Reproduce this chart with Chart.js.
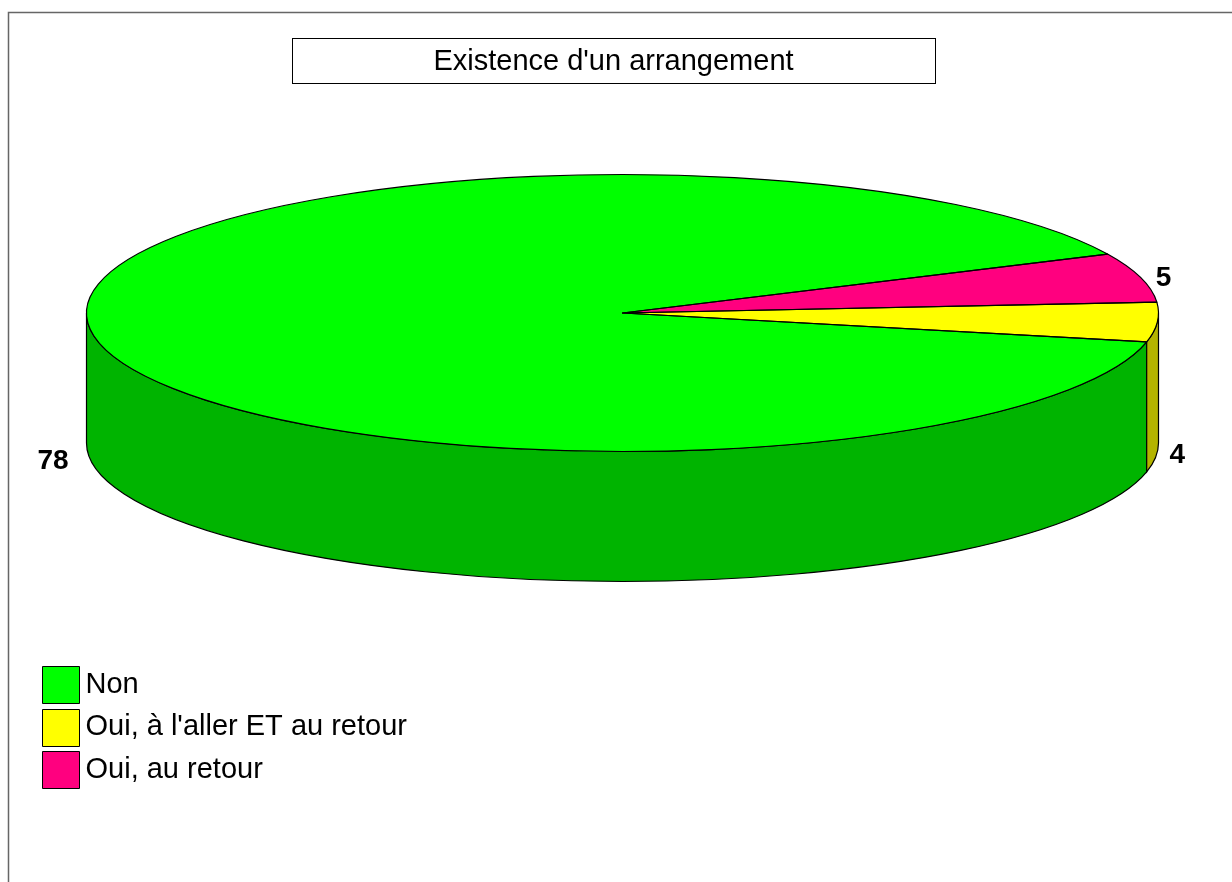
<!DOCTYPE html>
<html>
<head>
<meta charset="utf-8">
<title>Existence d'un arrangement</title>
<script src="https://cdn.jsdelivr.net/npm/chart.js@4/dist/chart.umd.min.js"></script>
<style>
  html, body { margin: 0; padding: 0; background: #fff; }
  canvas { display: block; }
</style>
</head>
<body>
<canvas id="ex_chart" width="1232" height="882"></canvas>
<script>
var chartTitle = "Existence d'un arrangement";
// clockwise order on the pie, starting at the lower right
var categories = ["Non", "Oui, au retour", "Oui, à l'aller ET au retour"];
var values = [78, 5, 4];
var legendOrder = ["Non", "Oui, à l'aller ET au retour", "Oui, au retour"];

var topColors = ["#00ff00", "#ff007f", "#ffff00"];
var wallColors = ["#00b400", "#b40059", "#b4b400"];
var labelNudgeX = [-37, 23, 20];
var labelNudgeY = [2, 1, 3];

var font = "'Liberation Sans', Arial, sans-serif";
var cx = 622.5, cy = 313, rx = 536, ry = 138.5, depth = 130;

function ellipsePoint(angle) {
    return { x: cx + rx * Math.cos(angle), y: cy + ry * Math.sin(angle) };
}

var pie3d = {
    id: 'pie3d',
    afterLayout: function (chart) {
        var t = chart.titleBlock;
        t.left = 292; t.right = 935; t.width = 643;
        t.top = 62 - t.height / 2; t.bottom = t.top + t.height;

        var l = chart.legend;
        l.left = 42 - l.options.labels.padding; l.right = l.left + l.width;
        l.top = 670 - l.options.labels.padding; l.bottom = l.top + l.height;
    },
    beforeDraw: function (chart) {
        var ctx = chart.ctx;
        ctx.save();
        ctx.fillStyle = '#fff';
        ctx.fillRect(0, 0, chart.width, chart.height);

        // frame, runs off the right and bottom of the page
        ctx.strokeStyle = '#666';
        ctx.lineWidth = 1.5;
        ctx.beginPath();
        ctx.moveTo(8.5, 882);
        ctx.lineTo(8.5, 12.5);
        ctx.lineTo(1232, 12.5);
        ctx.stroke();

        // title box
        ctx.strokeStyle = '#000';
        ctx.lineWidth = 1;
        ctx.strokeRect(292.5, 38.5, 643, 45);
        ctx.restore();
    },
    beforeDatasetsDraw: function (chart) {
        var ctx = chart.ctx;
        var arcs = chart.getDatasetMeta(0).data;
        ctx.save();
        ctx.strokeStyle = '#000';
        ctx.lineWidth = 1.2;
        // side walls, only the part of each slice facing the viewer
        arcs.forEach(function (arc, i) {
            for (var k = -1; k <= 2; k++) {
                var s = Math.max(arc.startAngle, k * 2 * Math.PI);
                var e = Math.min(arc.endAngle, k * 2 * Math.PI + Math.PI);
                if (e <= s) continue;
                ctx.beginPath();
                ctx.ellipse(cx, cy, rx, ry, 0, s, e);
                ctx.ellipse(cx, cy + depth, rx, ry, 0, e, s, true);
                ctx.closePath();
                ctx.fillStyle = wallColors[i];
                ctx.fill();
                ctx.stroke();
            }
        });
        ctx.restore();

        // squash the library's round pie into the top ellipse
        var first = arcs[0];
        ctx.save();
        ctx.translate(cx, cy);
        ctx.scale(rx / first.outerRadius, ry / first.outerRadius);
        ctx.translate(-first.x, -first.y);
    },
    afterDatasetsDraw: function (chart) {
        var ctx = chart.ctx;
        var arcs = chart.getDatasetMeta(0).data;
        ctx.restore();

        ctx.save();
        ctx.strokeStyle = '#000';
        ctx.lineWidth = 1.2;
        ctx.lineJoin = 'round';
        arcs.forEach(function (arc) {
            ctx.beginPath();
            ctx.moveTo(cx, cy);
            ctx.ellipse(cx, cy, rx, ry, 0, arc.startAngle, arc.endAngle);
            ctx.closePath();
            ctx.stroke();
        });

        // value labels
        ctx.fillStyle = '#000';
        ctx.font = 'bold 28px ' + font;
        ctx.textAlign = 'center';
        ctx.textBaseline = 'middle';
        arcs.forEach(function (arc, i) {
            var mid = (arc.startAngle + arc.endAngle) / 2;
            var p = ellipsePoint(mid);
            var y = p.y + (Math.sin(mid) > 0 ? depth : 0);
            ctx.fillText(String(values[i]), p.x + labelNudgeX[i], y + labelNudgeY[i]);
        });

        // legend swatches, the legend itself leaves room and writes the text
        ctx.lineWidth = 1;
        chart.legend.legendItems.forEach(function (item, i) {
            var idx = categories.indexOf(item.text);
            var y = Math.round(666 + i * 42.5) + 0.5;
            ctx.fillStyle = topColors[idx];
            ctx.fillRect(42.5, y, 37, 37);
            ctx.strokeRect(42.5, y, 37, 37);
        });
        ctx.restore();
    }
};

var ctx = document.getElementById('ex_chart');

var data = {
    labels: categories,
    datasets: [{
        data: values,
        backgroundColor: topColors,
        borderWidth: 0,
        hoverOffset: 0,
        clip: false,
        radius: rx
    }]
};

var config = {
    responsive: false,
    animation: false,
    events: [],
    // lower edge of the yellow slice sits 12 degrees below the horizontal
    rotation: 102.05,
    plugins: {
        tooltip: { enabled: false },
        title: {
            display: true,
            text: chartTitle,
            color: '#000',
            padding: 0,
            font: { family: font, size: 29, weight: 'normal', lineHeight: 1.2 }
        },
        legend: {
            display: true,
            position: 'left',
            align: 'start',
            labels: {
                boxWidth: 29,
                boxHeight: 27,
                padding: 13.5,
                color: '#000',
                font: { family: font, size: 29 },
                sort: function (a, b) {
                    return legendOrder.indexOf(a.text) - legendOrder.indexOf(b.text);
                },
                generateLabels: function (chart) {
                    var items = Chart.overrides.doughnut.plugins.legend.labels.generateLabels(chart);
                    items.forEach(function (item) {
                        item.fillStyle = 'rgba(0,0,0,0)';
                        item.strokeStyle = 'rgba(0,0,0,0)';
                        item.lineWidth = 0;
                    });
                    return items;
                }
            }
        }
    }
};

var ex_chart = new Chart(ctx, {
    type: 'pie',
    data: data,
    options: config,
    plugins: [pie3d]
});
</script>
</body>
</html>
